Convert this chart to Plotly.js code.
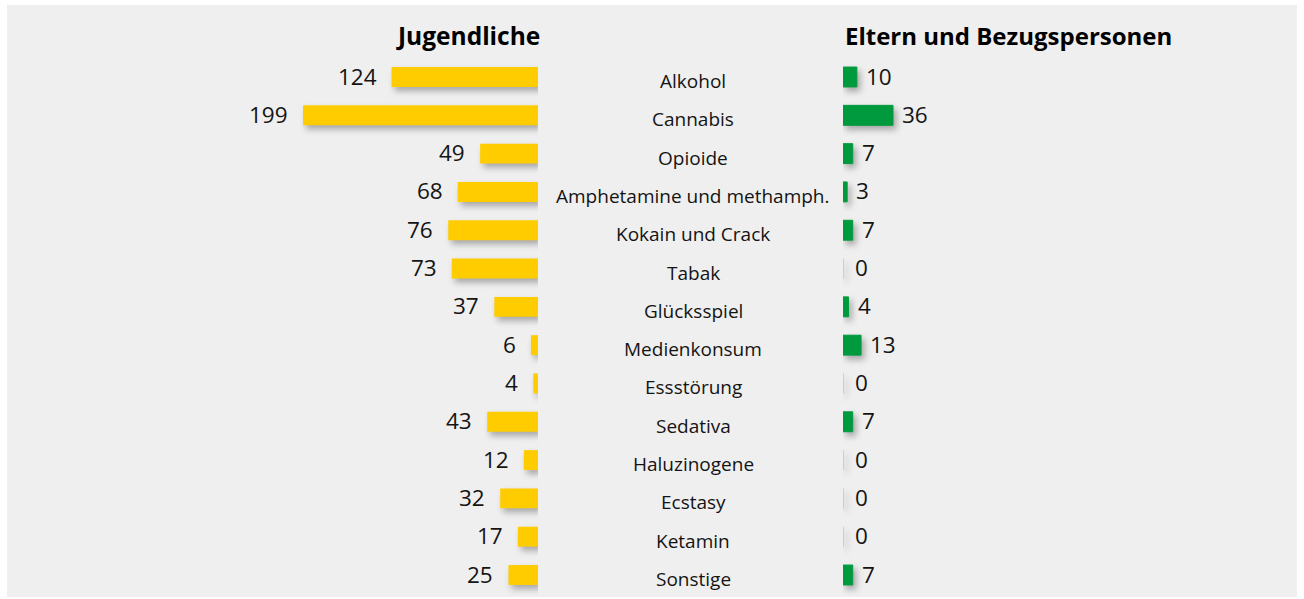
<!DOCTYPE html>
<html>
<head>
<meta charset="utf-8">
<script src="https://cdn.plot.ly/plotly-3.0.1.min.js"></script>
<style>
html,body{margin:0;padding:0;background:#fff;}
#chart{width:1304px;height:599px;}
.js-plotly-plot .barlayer .trace{filter: drop-shadow(3px 4px 3px rgba(0,0,0,0.3));}
</style>
</head>
<body>
<div id="chart"></div>
<script>
const categories = ["Alkohol","Cannabis","Opioide","Amphetamine und methamph.","Kokain und Crack","Tabak","Glücksspiel","Medienkonsum","Essstörung","Sedativa","Haluzinogene","Ecstasy","Ketamin","Sonstige"];
const jugendliche = [124,199,49,68,76,73,37,6,4,43,12,32,17,25];
const eltern = [10,36,7,3,7,0,4,13,0,7,0,0,0,7];
const titleLeft = "Jugendliche";
const titleRight = "Eltern und Bezugspersonen";

const W = 1304, H = 599;
const FONT = "Open Sans, Noto Sans, sans-serif";
const TXT = "#141414";
const YELLOW = "#ffcc00", GREEN = "#009a3e";

const leftZero = 538, leftPxPerUnit = 235/199;
const leftStart = 130;
const rightZero = 843, rightPxPerUnit = 50/36;
const rightEnd = 1300;

const traces = [
  {type:'bar', orientation:'h', y:categories, x:jugendliche, xaxis:'x', yaxis:'y',
   marker:{color:YELLOW, line:{width:0}}, width:0.52, hoverinfo:'skip'},
  {type:'bar', orientation:'h', y:categories, x:eltern, xaxis:'x2', yaxis:'y',
   marker:{color:GREEN, line:{width:1, color:eltern.map(v=> v===0 ? 'rgba(165,200,195,0.8)' : GREEN)}},
   width:0.52, hoverinfo:'skip'}
];

const annotations = [];
categories.forEach((c,i)=>{
  annotations.push({xref:'x', yref:'y', x:jugendliche[i], y:c, text:String(jugendliche[i]),
    showarrow:false, xanchor:'right', xshift:-13, yshift:1, font:{family:FONT, size:22.5, color:TXT}});
  annotations.push({xref:'x2', yref:'y', x:eltern[i], y:c, text:String(eltern[i]),
    showarrow:false, xanchor:'left', xshift:eltern[i]===0 ? 10 : 7, yshift:1, font:{family:FONT, size:22.5, color:TXT}});
  annotations.push({xref:'paper', yref:'y', x:693/W, y:c, text:c,
    showarrow:false, xanchor:'center', yshift:-4, font:{family:FONT, size:19, color:TXT}});
});
annotations.push({xref:'paper', yref:'paper', x:542/W, y:1-36/H, text:'<b>'+titleLeft+'</b>',
  showarrow:false, xanchor:'right', yanchor:'middle', font:{family:FONT, size:24.5, color:'#000'}});
annotations.push({xref:'paper', yref:'paper', x:843/W, y:1-36/H, text:'<b>'+titleRight+'</b>',
  showarrow:false, xanchor:'left', yanchor:'middle', font:{family:FONT, size:24, color:'#000'}});

const rowPx = (575-77)/13;
const yTop = -77/rowPx;
const yBottom = yTop + H/rowPx;

const layout = {
  width:W, height:H,
  margin:{l:0,r:0,t:0,b:0},
  paper_bgcolor:'#ffffff', plot_bgcolor:'rgba(0,0,0,0)',
  showlegend:false,
  xaxis:{domain:[leftStart/W, leftZero/W], range:[(leftZero-leftStart)/leftPxPerUnit, 0],
    visible:false, fixedrange:true},
  xaxis2:{domain:[rightZero/W, rightEnd/W], range:[0,(rightEnd-rightZero)/rightPxPerUnit],
    anchor:'y', visible:false, fixedrange:true},
  yaxis:{type:'category', categoryorder:'array', categoryarray:categories,
    range:[yBottom, yTop], visible:false, fixedrange:true},
  shapes:[{type:'rect', xref:'paper', yref:'paper', x0:7/W, x1:1297/W, y0:1-597/H, y1:1-5/H,
    fillcolor:'#efefef', line:{width:0}, layer:'below'}],
  annotations:annotations
};

Plotly.newPlot('chart', traces, layout, {displayModeBar:false, staticPlot:true});
</script>
</body>
</html>
